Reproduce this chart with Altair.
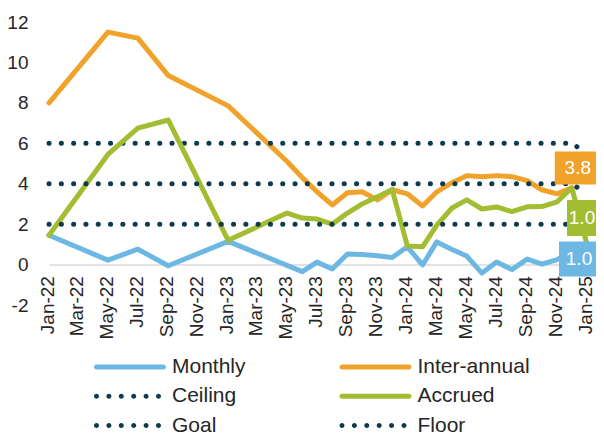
import altair as alt
import pandas as pd

# ---------------- data ----------------
series_names = ["Monthly", "Inter-annual", "Ceiling", "Accrued", "Goal", "Floor"]
series_colors = ["#6cb8e3", "#f0a22a", "#0d3a4f", "#a2bd31", "#0d3a4f", "#0d3a4f"]
series_dotted = [False, False, True, False, True, True]
legend_order = ["Monthly", "Ceiling", "Goal", "Inter-annual", "Accrued", "Floor"]

monthly_dates = ["2022-01-01", "2022-05-01", "2022-07-01", "2022-09-01", "2023-01-01",
                 "2023-06-01", "2023-07-01", "2023-08-01", "2023-09-01", "2023-10-01",
                 "2023-11-01", "2023-12-01", "2024-01-01", "2024-02-01", "2024-03-01",
                 "2024-04-01", "2024-05-01", "2024-06-01", "2024-07-01", "2024-08-01",
                 "2024-09-01", "2024-10-01", "2024-11-01", "2024-12-01", "2025-01-01"]
monthly_values = [1.45, 0.22, 0.76, -0.06, 1.15, -0.35, 0.12, -0.22, 0.52, 0.50,
                  0.44, 0.35, 0.88, -0.02, 1.12, 0.75, 0.42, -0.42, 0.13, -0.25,
                  0.27, 0.02, 0.25, 0.60, 1.0]

interannual_dates = ["2022-01-01", "2022-05-01", "2022-07-01", "2022-09-01", "2023-01-01",
                     "2023-05-01", "2023-06-01", "2023-07-01", "2023-08-01", "2023-09-01",
                     "2023-10-01", "2023-11-01", "2023-12-01", "2024-01-01", "2024-02-01",
                     "2024-03-01", "2024-04-01", "2024-05-01", "2024-06-01", "2024-07-01",
                     "2024-08-01", "2024-09-01", "2024-10-01", "2024-11-01", "2024-12-01"]
interannual_values = [8.0, 11.5, 11.2, 9.35, 7.85, 5.1, 4.3, 3.6, 2.95, 3.55,
                      3.6, 3.2, 3.7, 3.5, 2.9, 3.6, 4.05, 4.4, 4.35, 4.4,
                      4.35, 4.15, 3.7, 3.5, 3.8]

accrued_dates = ["2022-01-01", "2022-05-01", "2022-07-01", "2022-09-01", "2023-01-01",
                 "2023-05-01", "2023-06-01", "2023-07-01", "2023-08-01", "2023-09-01",
                 "2023-10-01", "2023-11-01", "2023-12-01", "2024-01-01", "2024-02-01",
                 "2024-03-01", "2024-04-01", "2024-05-01", "2024-06-01", "2024-07-01",
                 "2024-08-01", "2024-09-01", "2024-10-01", "2024-11-01", "2024-12-01",
                 "2025-01-01"]
accrued_values = [1.45, 5.45, 6.75, 7.15, 1.2, 2.55, 2.3, 2.25, 2.0, 2.55,
                  3.0, 3.35, 3.72, 0.92, 0.88, 1.95, 2.8, 3.2, 2.75, 2.85,
                  2.62, 2.86, 2.87, 3.1, 3.8, 1.0]

band_dates = ["2022-01-01", "2024-12-01", "2025-01-01"]
ceiling_values = [6.0, 6.0, 5.5]
goal_values = [4.0, 4.0, 3.5]
floor_values = [2.0, 2.0, 1.5]

label_series = ["Inter-annual", "Accrued", "Monthly"]
label_dates = ["2024-12-01", "2025-01-01", "2025-01-01"]
label_values = [3.8, 1.0, 1.0]
label_texts = ["3.8", "1.0", "1.0"]

tick_dates = ["2022-01-01", "2022-03-01", "2022-05-01", "2022-07-01", "2022-09-01",
              "2022-11-01", "2023-01-01", "2023-03-01", "2023-05-01", "2023-07-01",
              "2023-09-01", "2023-11-01", "2024-01-01", "2024-03-01", "2024-05-01",
              "2024-07-01", "2024-09-01", "2024-11-01", "2025-01-01"]
y_ticks = [-2, 0, 2, 4, 6, 8, 10, 12]

# ---------------- tables ----------------
rows = []
for name, ds, vs in [("Monthly", monthly_dates, monthly_values),
                     ("Inter-annual", interannual_dates, interannual_values),
                     ("Ceiling", band_dates, ceiling_values),
                     ("Accrued", accrued_dates, accrued_values),
                     ("Goal", band_dates, goal_values),
                     ("Floor", band_dates, floor_values)]:
    for d, v in zip(ds, vs):
        rows.append({"series": name, "date": d, "value": v})
df = pd.DataFrame(rows)

labels_df = pd.DataFrame({"series": label_series, "date": label_dates,
                          "value": label_values, "text": label_texts})


def dt(s):
    y, m, d = (int(p) for p in s.split("-"))
    return alt.DateTime(year=y, month=m, date=d, utc=True)


FONT = "Liberation Sans"
TXT = "#262626"
PLOT_W, PLOT_H = 538, 283
color_of = dict(zip(series_names, series_colors))
dotted_of = dict(zip(series_names, series_dotted))

x_enc = alt.X(
    "date:T",
    title=None,
    scale=alt.Scale(type="utc", domain=[dt(tick_dates[0]), dt(tick_dates[-1])]),
    axis=alt.Axis(values=[dt(t) for t in tick_dates],
                  labelExpr="utcFormat(datum.value, '%b-%y')",
                  labelAngle=270, labelFont=FONT, labelFontSize=19, labelColor=TXT,
                  labelPadding=11, labelOffset=-1.5, labelOverlap=False,
                  ticks=False, grid=False,
                  domainColor="#d9d9d9", domainWidth=1.5,
                  offset=-2 * PLOT_H / 14.0, title=None),
)
y_enc = alt.Y(
    "value:Q",
    title=None,
    scale=alt.Scale(domain=[-2, 12], nice=False, zero=False),
    axis=alt.Axis(values=y_ticks, labelExpr="'' + datum.value",
                  domain=False, ticks=False, grid=False,
                  labelFont=FONT, labelFontSize=19, labelColor=TXT,
                  labelPadding=21, title=None),
)

# ---------------- layers ----------------
layers = []
for name in series_names:  # drawing order (later on top)
    if dotted_of[name]:
        mk = dict(strokeWidth=5, strokeCap="round", strokeDash=[0.1, 12.2])
    else:
        mk = dict(strokeWidth=5, strokeCap="round", strokeJoin="round")
    layers.append(
        alt.Chart(df).transform_filter(alt.datum.series == name)
        .mark_line(color=color_of[name], **mk)
        .encode(x=x_enc, y=y_enc)
    )

# legend swatches (custom symbol paths; unit = 12 px)
r = 2.5 / 12.0
bar_path = (f"M-{3 - r:.4f},-{r:.4f}H{3 - r:.4f}"
            f"A{r:.4f},{r:.4f} 0 0 1 {3 - r:.4f},{r:.4f}"
            f"H-{3 - r:.4f}A{r:.4f},{r:.4f} 0 0 1 -{3 - r:.4f},-{r:.4f}Z")
dots = []
for k in range(6):
    cx = -3 + r + k * (12.4 / 12.0)
    dots.append(f"M{cx - r:.4f},0A{r:.4f},{r:.4f} 0 1 0 {cx + r:.4f},0"
                f"A{r:.4f},{r:.4f} 0 1 0 {cx - r:.4f},0Z")
dot_path = "".join(dots)

legend = alt.Legend(orient="none", legendX=69, legendY=333, columns=2, title=None,
                    symbolSize=576, symbolStrokeWidth=0,
                    labelFont=FONT, labelFontSize=21, labelColor=TXT, labelOffset=30,
                    columnPadding=93.5, rowPadding=7.3, padding=0, labelLimit=300)
layers.append(
    alt.Chart(df).transform_filter("false")
    .mark_point(filled=True, size=576, strokeWidth=0, opacity=1)
    .encode(
        x=x_enc, y=y_enc,
        color=alt.Color("series:N", legend=legend,
                        scale=alt.Scale(domain=legend_order,
                                        range=[color_of[n] for n in legend_order])),
        shape=alt.Shape("series:N", legend=legend,
                        scale=alt.Scale(domain=legend_order,
                                        range=[dot_path if dotted_of[n] else bar_path
                                               for n in legend_order])),
    )
)

# data-label boxes: (box dx, box dy, box w, box h, text dx, text dy)
geom = [(5.0, -19.8, 44, 33, 6.0, -19.8),
        (2.0, -26.4, 44, 36, -5.0, -26.4),
        (-6.0, 14.6, 44, 35, -8.0, 14.6)]
for i, (bx, by, bw, bh, tx, ty) in enumerate(geom):
    col = color_of[label_series[i]]
    q = bh / bw
    path = f"M-1,-{q:.4f}H1V{q:.4f}H-1Z"
    sub = labels_df.iloc[[i]]
    layers.append(
        alt.Chart(sub).mark_point(shape=path, size=bw * bw, filled=True, fill=col,
                                  opacity=1, strokeWidth=0, xOffset=bx, yOffset=by)
        .encode(x=x_enc, y=y_enc)
    )
    layers.append(
        alt.Chart(sub).mark_text(font=FONT, fontSize=19, color="white", align="center",
                                 baseline="middle", xOffset=tx, yOffset=ty)
        .encode(x=x_enc, y=y_enc, text="text:N")
    )

chart = alt.layer(*layers).properties(
    width=PLOT_W, height=PLOT_H,
    autosize=alt.AutoSizeParams(type="none"),
    padding={"left": 41, "top": 14, "right": 9, "bottom": 131},
    background="white",
).configure_view(stroke=None)

chart.save("out.html", embed_options={"renderer": "svg", "actions": False})
